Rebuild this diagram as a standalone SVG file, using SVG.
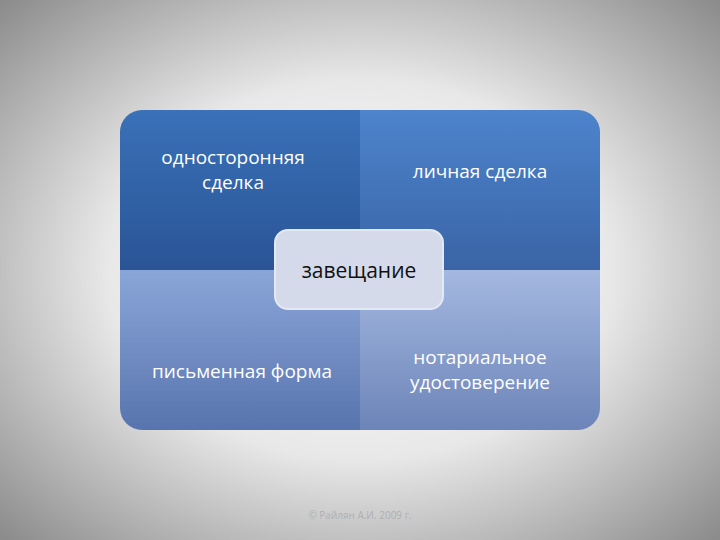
<svg xmlns="http://www.w3.org/2000/svg" width="720" height="540" viewBox="0 0 720 540">
<defs>
<radialGradient id="bg" cx="0.5" cy="0.5" r="0.7"><stop offset="0" stop-color="#ffffff"/><stop offset="0.5" stop-color="#e8e8e8"/><stop offset="1" stop-color="#8c8c8c"/></radialGradient>
<linearGradient id="q1" x1="0" y1="0" x2="0" y2="1"><stop offset="0" stop-color="#3a71b8"/><stop offset="1" stop-color="#2a5496"/></linearGradient>
<linearGradient id="q2" x1="0" y1="0" x2="0" y2="1"><stop offset="0" stop-color="#4d84cc"/><stop offset="1" stop-color="#3a64a6"/></linearGradient>
<linearGradient id="q3" x1="0" y1="0" x2="0" y2="1"><stop offset="0" stop-color="#8aa6d8"/><stop offset="1" stop-color="#5874ae"/></linearGradient>
<linearGradient id="q4" x1="0" y1="0" x2="0" y2="1"><stop offset="0" stop-color="#a4b8e0"/><stop offset="1" stop-color="#6c84b8"/></linearGradient>
<clipPath id="c"><rect x="120" y="110" width="480" height="320" rx="22"/></clipPath>
</defs>
<style>.t{font-family:"Open Sans","DejaVu Sans",sans-serif;font-size:19px;fill:#fff;text-anchor:middle}</style>
<rect width="720" height="540" fill="url(#bg)"/>
<g clip-path="url(#c)">
<g id="q-tl"><rect x="120" y="110" width="240" height="160" fill="url(#q1)"/><text class="t" x="233" y="164">односторонняя</text><text class="t" x="233" y="189">сделка</text></g>
<g id="q-tr"><rect x="360" y="110" width="240" height="160" fill="url(#q2)"/><text class="t" x="480" y="178">личная сделка</text></g>
<g id="q-bl"><rect x="120" y="270" width="240" height="160" fill="url(#q3)"/><text class="t" x="242" y="378">письменная форма</text></g>
<g id="q-br"><rect x="360" y="270" width="240" height="160" fill="url(#q4)"/><text class="t" x="480" y="364">нотариальное</text><text class="t" x="480" y="389">удостоверение</text></g>
</g>
<g id="center"><rect x="275" y="230" width="168" height="79" rx="13" fill="#d4dae9" stroke="#e4e8f2" stroke-width="2"/><text x="359" y="278" font-family="'Open Sans','DejaVu Sans',sans-serif" font-size="21" fill="#111" text-anchor="middle">завещание</text></g>
<g id="connectors"/>
<text x="360" y="519" font-family="'Open Sans','DejaVu Sans',sans-serif" font-size="10" fill="#b0b0b0" text-anchor="middle">© Райлян А.И. 2009 г.</text>
</svg>
